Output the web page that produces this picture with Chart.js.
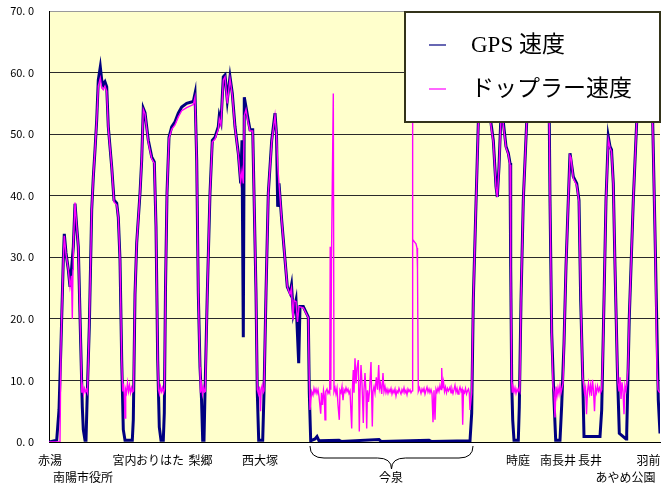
<!DOCTYPE html>
<html>
<head>
<meta charset="utf-8">
<script src="https://cdn.jsdelivr.net/npm/chart.js@4.4.1/dist/chart.umd.min.js"></script>
<style>
  html, body { margin: 0; padding: 0; background: #fff; }
</style>
</head>
<body>
<canvas id="grafico" width="672" height="488"></canvas>
<script>
// --- Dados: [tempo, velocidade km/h] ---
const pontosGps = [
  [0,0],[7.7,0.3],[10,5.2],[12,16],[14.3,29.6],[15.3,33.8],[17,30.7],[19.3,28],[21,25.2],[22.7,28.4],
  [24.3,31.7],[26,38.7],[27.7,35],[29.3,31.7],[31.7,16],[33.3,5.7],[34.3,2],[36,0.3],[37,0.3],[38.3,8],
  [40.3,18.7],[42.7,37.7],[44.3,43],[46,47.4],[47.7,52.3],[49.3,58.8],[51.3,60.9],[52.7,58.8],[54.3,58],
  [56,58.5],[57.7,57.7],[59.3,51.2],[62.7,44.7],[65,39.3],[67.7,38.8],[69.3,36.5],[71,29.6],[72.7,13.3],
  [74.3,2],[76,0.3],[83.3,0.3],[84.3,3.6],[86,24],[87.7,32.3],[91,40.4],[92.7,45.8],[94.3,54.2],[96,53.5],
  [99.3,49],[102.7,46.3],[105.3,45.5],[107,35],[108.7,13.3],[110.3,2.4],[112,0.3],[114.3,0.3],[115.3,4.7],
  [116.5,25],[118,40.4],[120,49.5],[122.7,51.2],[126,52],[129.3,53.4],[132.7,54.4],[137.7,55],[144.3,55.3],
  [146,56.6],[147.7,45.8],[149.3,24.2],[151,12.2],[152.5,7],[153.7,0.3],[155,0.3],[156,8],[158.3,24.2],
  [161,40.4],[163.3,49],[166,49.5],[169.3,51.2],[170.3,53],[172,52],[174.3,59.3],[176,59.6],[178.3,55.5],
  [181,59.3],[183.3,56.6],[186,51.2],[189.3,46.9],[191.7,42],[193,49],[194.3,17],[195.3,56],[197,54.4],
  [199,52.5],[201,50.7],[203.7,50.7],[205,40.4],[207,24.2],[208.3,8],[209.7,0.3],[213.7,0.3],[215,8],
  [217,24.2],[219.3,40.4],[222.7,49],[226,53.4],[227.5,50],[228.7,38.2],[230,42],[232.7,36],[236,29.6],
  [238.3,25.2],[241,24.2],[242.5,25.5],[244.3,20.9],[247,23],[249.7,12.8],[251,22],[254.3,22],[259.3,20.3],
  [260.3,8],[261.7,0.2],[266,0.5],[268,0.9],[270,0.2],[290,0.3],[292,0.1],[330,0.4],[332,0.1],[380,0.3],
  [382,0.1],[421,0.2],[422.7,4.7],[424.3,23],[426.7,37],[429.3,51.8],[431,56],[435,60],[439,57],[441,53],
  [444.3,49],[447,41.5],[448.3,39.8],[450,44.7],[451.7,52],[453,56],[454.3,52],[457,48],[459.3,46.9],
  [461,45.3],[461.7,28.5],[462.7,9.6],[463.7,3.6],[465,0.3],[469.3,0.3],[470.3,5.7],[472,23],[474.3,39.3],
  [477.7,52],[481,58],[489,60],[497,57],[500.3,52],[501,39.3],[502.7,17.7],[505,6.8],[506.7,0.3],[511,0.3],
  [512.7,6],[515,16],[517,28.5],[519.3,39.3],[521,46.9],[524.3,43.1],[527.7,42],[530,39.3],[531.7,23],
  [533.7,10.6],[535,0.9],[551,0.9],[552.7,5.2],[555,23],[557,39.3],[559.3,49.6],[561,48],[562.5,47.5],
  [564.3,42],[566,28.5],[568.3,12.2],[570.3,1.4],[577,0.5],[577.7,1.4],[580.3,20.3],[584.3,39.3],
  [587.7,52],[591,58],[597,60],[603.7,52],[606,34],[609.3,6.8],[611,1.4]
];

const pontosDoppler = [
  [0,0],[11,0],[12,16],[14.3,29.6],[15.3,33.5],[17,30.5],[19.3,28],[21,25.2],[22.5,27],[23.3,20],[24,28],
  [24.3,31.7],[26,38.9],[27.7,35],[29.3,31.7],[31.7,16],[32.8,8],[33.5,9],[34.5,7.8],[35.5,8.7],[36.5,8.1],
  [37.5,8.5],[38.5,8],[40.3,18.7],[42.7,37.7],[44.3,43],[46,47.4],[47.7,52.3],[49.3,57.8],[51.3,59.1],
  [52.7,57.5],[54.3,57.2],[56,57.8],[57.7,57],[59.3,51],[62.7,44.7],[65,39],[67.7,38.5],[69.3,36.5],
  [71,29.6],[72.7,13.3],[73.7,8.2],[74.5,9.5],[75.3,7.8],[76,3.9],[76.7,8.5],[77.5,8],[78.5,9.6],
  [79.5,8.2],[80.5,9.2],[81.5,8],[82.5,8.8],[83.5,8.1],[84.5,8.3],[86,24],[87.7,32.3],[91,40.4],
  [92.7,45.8],[94.3,54],[96,53.3],[99.3,48.7],[102.7,46],[105.3,45.3],[107,35],[108.7,13.3],[109.5,8.5],
  [110.5,7.8],[111.5,9],[112.5,8.2],[113.5,8.8],[114.5,8],[115.5,8.6],[116.5,25],[118,40.4],[120,49.3],
  [122.7,50.8],[126,51.5],[129.3,52.8],[132.7,53.8],[137.7,54.3],[144.3,54.8],[146,56],[147.7,45.8],
  [149.3,24.2],[151,12.2],[151.5,8],[152.5,9.3],[153.5,7.8],[154.5,8.9],[155.5,8.1],[156.3,8.2],
  [158.3,24.2],[161,40.4],[163.3,48.7],[166,49.2],[169.3,50.8],[170.3,52.5],[172,51.5],[174.3,58.8],
  [176,59.3],[178.3,55],[181,59],[183.3,56.3],[186,51],[189.3,46.7],[191.7,42.3],[193,44],[194.3,42],
  [195.3,53],[197,54],[199,52],[201,50.5],[203.7,50.5],[205,40.4],[207,24.2],[208.3,8.5],[209.5,7.8],
  [210.5,9],[211.5,5],[212.2,8.5],[213.2,9.2],[214.2,8],[215,8.3],[217,24.2],[219.3,40.4],[222.7,48.7],
  [226,53],[227.5,50],[228.7,45],[230,42],[232.7,36],[236,29.6],[238.3,25.2],[241,24],[242.5,25],
  [244,19.8],[245,23],[247,22.8],[248.5,19.5],[250,22],[254.3,21.8],[259.3,20.2],[260.3,10],[261,5.2],
  [262.7,8.2],[264,7.6],[265,8.7],[266,8],[267,8.6],[268,7.9],[269,8.5],[270,7.4],[271.7,4.6],[272.5,8],
  [273.5,6],[274.5,8.4],[275.3,7.5],[276,3.6],[276.8,8.2],[278,8.6],[279,7.9],[280,8.3],[280.7,8],
  [281.2,31.7],[281.8,8.5],[282.5,30],[283.3,42],[284.3,56.6],[285,8.2],[286,8.8],[287,7.8],[288,8.7],
  [289,6],[290.3,3.6],[291,8.4],[292,8],[293,9],[294,6.8],[295,8.5],[296,8.1],[297,8.8],[298,8.2],
  [299,8.6],[300,7.9],[301,8.3],[302.7,2.2],[303.5,9],[304.3,11.7],[305,8],[306,13.6],[307,9.5],[308,12],
  [309.3,13.3],[310.3,1.7],[311,8],[312,12.5],[313,9.5],[314.3,3.1],[315,8.5],[316,11.2],[317,8],
  [317.7,2.2],[318.5,8.4],[319.5,6.5],[320.5,8.3],[322,13],[323.3,2.5],[324,8.2],[325,9],[326,8],
  [327.3,10.5],[328.5,8.5],[329.7,12.5],[330.5,8.7],[331.5,9.5],[332.7,7.8],[334,11.2],[335,8.2],[336,9],
  [337,8],[338,8.6],[339,7.9],[340,8.5],[341,8.1],[342,8.7],[343,7.8],[344,8.4],[345,8],[346,8.6],
  [347,7.5],[348,8.3],[349,8],[350,8.7],[351,8.2],[352,7.8],[353,8.5],[354,8.1],[355,8.8],[356,8],
  [357,8.4],[358,7.7],[359,8.6],[360,8.2],[361,8.5],[362,8],[363,8.3],[363.4,62],[363.9,32.9],[365.5,32.5],
  [367,32.2],[368,31.5],[368.5,28],[369.3,8.2],[370.5,8.8],[372,7.9],[373,8.6],[374,8.2],[375,8.7],
  [376,7.8],[377,8.4],[378,8.9],[379,8.1],[380,8.6],[381,8],[382,8.5],[383,7.9],[384,3.2],[385,8.4],
  [386,3.6],[387,8.6],[388,8.1],[389,8.8],[390,8.2],[391,9.2],[392,8.5],[392.7,12],[393.5,8.7],
  [394.5,9.8],[395.5,8.2],[396.5,8.9],[397.5,8],[398.5,8.7],[399.5,8.3],[401,8.9],[402,8],[403,8.6],
  [404,7.9],[405,8.5],[406,9.2],[407,8.1],[408,8.7],[409,7.8],[410,8.4],[411,8.9],[412,8.2],[413,8.6],
  [413.7,2.8],[414.5,8.3],[415.5,8],[416.5,8.7],[417.5,7.8],[418.5,8.3],[419.5,8.6],[420.3,8],[421,5.2],
  [422.7,8],[424.3,23],[426.7,37],[429.3,51.5],[431,55.5],[435,59.5],[439,56.5],[441,52.5],[444.3,48.7],
  [447,41.3],[448.3,39.8],[450,44.5],[451.7,51.5],[453,55.5],[454.3,51.5],[457,47.8],[459.3,46.7],
  [461,45],[461.7,28.5],[462.7,9.6],[463.3,8],[464,9],[465,8.1],[466,8.8],[467,7.9],[468,8.6],[469,8.2],
  [470,8.7],[470.8,8.3],[472,23],[474.3,39.3],[477.7,52],[481,57.5],[489,59.5],[497,56.5],[500.3,51.5],
  [501,39.3],[502.7,17.7],[504,9],[505,8.2],[506,4],[507,9],[508,7.5],[509,8.8],[510,7.8],[511,9.2],
  [512,8],[513,8.8],[514,9.5],[515,16],[517,28.5],[519.3,39.3],[521,46.5],[522,46.2],[524.3,42.8],
  [527.7,41.7],[530,39],[531.7,23],[533.7,10.6],[534.5,9.4],[535.5,8],[536.5,8.8],[537.5,4.5],
  [538.5,8.3],[539.5,9.5],[540.5,8],[541.5,9.2],[542.5,7.5],[543.5,10.1],[544.5,8.3],[545.5,5],
  [546.5,8.8],[547.5,8],[548.5,9.1],[549.5,8.3],[550.5,8.8],[551.5,8],[552.7,8.5],[554,15],[555,23],
  [557,39.3],[559.3,49.2],[561,47.8],[562.5,47.2],[564.3,41.8],[566,28.5],[568.3,12.2],[569,9.5],
  [570,8.2],[571,10.5],[572,7],[573,9.7],[574,8.3],[575,4.5],[576,9.2],[577,8.4],[578,9.5],[579,12],
  [580.3,20.3],[584.3,39.3],[587.7,52],[591,57.5],[597,59.5],[603.7,51.5],[606,34],[608,12],[609,8.5],
  [610,8.2],[611,8]
];

// --- Estações (eixo X) ---
const estacoesNome = ["赤湯", "南陽市役所", "宮内", "おりはた", "梨郷", "西大塚", "今泉", "時庭", "南長井", "長井", "あやめ公園", "羽前"];
const estacoesPos = [1, 34, 75.5, 111, 151.5, 211, 342, 469, 509, 541, 576.5, 599.5];
const estacoesLinha = [0, 1, 0, 0, 0, 0, 1, 0, 0, 0, 1, 0];

// trecho de 今泉 marcado com a chave
const chaveInicio = 261;
const chaveFim = 424;

const tempoMax = 611;
const velocidadeMax = 70;

const series = [
  { nome: "GPS 速度", cor: "#000080" },
  { nome: "ドップラー速度", cor: "#FF00FF" }
];

const fonteJp = '"Noto Sans CJK JP", sans-serif';

// --- Plugins auxiliares ---
const fundoAmarelo = {
  id: "fundoAmarelo",
  beforeDraw(chart) {
    const { ctx, chartArea: a } = chart;
    ctx.save();
    ctx.fillStyle = "#FFFFCC";
    ctx.fillRect(a.left, a.top, a.right - a.left, a.bottom - a.top);
    ctx.restore();
  }
};

const chave = {
  id: "chave",
  afterDraw(chart) {
    const { ctx } = chart;
    const x = chart.scales.x;
    const x1 = x.getPixelForValue(chaveInicio);
    const x2 = x.getPixelForValue(chaveFim);
    const meio = (x1 + x2) / 2;
    const y0 = x.top + 4, y1 = x.top + 16, y2 = x.top + 27, r = 14;
    ctx.save();
    ctx.strokeStyle = "#000";
    ctx.lineWidth = 1;
    ctx.beginPath();
    ctx.moveTo(x1, y0);
    ctx.quadraticCurveTo(x1, y1, x1 + r, y1);
    ctx.lineTo(meio - r, y1);
    ctx.quadraticCurveTo(meio, y1, meio, y2);
    ctx.quadraticCurveTo(meio, y1, meio + r, y1);
    ctx.lineTo(x2 - r, y1);
    ctx.quadraticCurveTo(x2, y1, x2, y0);
    ctx.stroke();
    ctx.restore();
  }
};

const legenda = {
  id: "legenda",
  afterDraw(chart) {
    const { ctx, chartArea: a } = chart;
    const w = 255, h = 110;
    const lx = a.right - w, ly = a.top + 1;
    ctx.save();
    ctx.fillStyle = "#fff";
    ctx.fillRect(lx, ly, w, h);
    ctx.strokeStyle = "#33331a";
    ctx.lineWidth = 2;
    ctx.strokeRect(lx, ly, w, h);
    ctx.font = '23px "Liberation Serif", "Noto Sans CJK JP", serif';
    ctx.textBaseline = "middle";
    series.forEach((s, i) => {
      const yy = ly + 33 + i * 44;
      ctx.strokeStyle = s.cor;
      ctx.lineWidth = 1.2;
      ctx.beginPath();
      ctx.moveTo(lx + 24, yy);
      ctx.lineTo(lx + 41, yy);
      ctx.stroke();
      ctx.fillStyle = "#000";
      ctx.fillText(s.nome, lx + 66, yy + 1);
    });
    ctx.restore();
  }
};

// --- Gráfico ---
const ctx = document.getElementById("grafico").getContext("2d");

new Chart(ctx, {
  type: "line",
  data: {
    datasets: [
      {
        label: series[1].nome,
        data: pontosDoppler.map(p => ({ x: p[0], y: p[1] })),
        borderColor: series[1].cor,
        borderWidth: 1.4,
        pointRadius: 0,
        tension: 0,
        order: 0
      },
      {
        label: series[0].nome,
        data: pontosGps.map(p => ({ x: p[0], y: p[1] })),
        borderColor: series[0].cor,
        borderWidth: 3,
        pointRadius: 0,
        tension: 0,
        order: 1
      }
    ]
  },
  options: {
    responsive: false,
    animation: false,
    devicePixelRatio: 1,
    layout: { padding: { top: 11, right: 12, left: 0, bottom: 0 } },
    plugins: {
      legend: { display: false },
      tooltip: { enabled: false }
    },
    scales: {
      x: {
        type: "linear",
        min: 0,
        max: tempoMax,
        grid: { display: false, drawTicks: false },
        border: { display: true, color: "#000", width: 1 },
        afterBuildTicks: (s) => {
          s.ticks = estacoesPos.map(v => ({ value: v }));
        },
        ticks: {
          autoSkip: false,
          maxRotation: 0,
          minRotation: 0,
          padding: 10,
          color: "#000",
          font: { family: fonteJp, size: 12, lineHeight: 1.4 },
          callback: (v, i) => estacoesLinha[i] === 0 ? [estacoesNome[i], ""] : ["", estacoesNome[i]]
        },
        afterFit: (s) => { s.height = 46; }
      },
      y: {
        min: 0,
        max: velocidadeMax,
        ticks: {
          stepSize: 10,
          padding: 0,
          color: "#000",
          font: { family: fonteJp, size: 11 },
          callback: (v) => v.toFixed(1).replace(".", ". ")
        },
        grid: {
          drawTicks: true,
          tickLength: 15,
          tickColor: "rgba(0,0,0,0)",
          color: (c) => (c.tick && c.tick.value === velocidadeMax ? "#9a9a9a" : "#2a2a2a"),
          lineWidth: 1
        },
        border: { display: true, color: "#000", width: 1 },
        afterFit: (s) => { s.width = 49; }
      }
    }
  },
  plugins: [fundoAmarelo, chave, legenda]
});
</script>
</body>
</html>
